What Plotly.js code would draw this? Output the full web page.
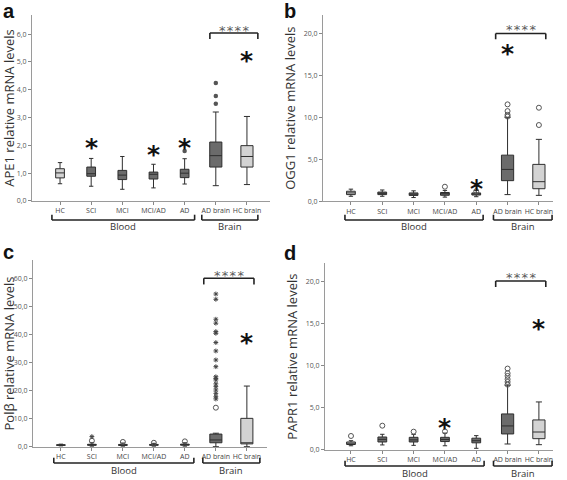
<!DOCTYPE html>
<html>
<head>
<meta charset="utf-8">
<script src="https://cdn.plot.ly/plotly-3.0.1.min.js"></script>
<style>html,body{margin:0;padding:0;background:#fff;}#chart{width:567px;height:480px;}</style>
</head>
<body>
<div id="chart"></div>
<script>
// ---------- data ----------
const categories = ["HC", "SCI", "MCI", "MCI/AD", "AD", "AD brain", "HC brain"];
const lightGroups = ["HC", "HC brain"];

// Panel a: APE1
const apeLow    = [0.62, 0.53, 0.42, 0.47, 0.61, 0.55, 0.59];
const apeQ1     = [0.83, 0.89, 0.77, 0.79, 0.84, 1.22, 1.22];
const apeMedian = [1.01, 0.98, 0.93, 0.96, 1.00, 1.63, 1.60];
const apeQ3     = [1.16, 1.22, 1.10, 1.04, 1.14, 2.12, 1.99];
const apeHigh   = [1.38, 1.53, 1.60, 1.32, 1.52, 3.20, 3.04];
const apeOutX   = ["AD", "AD brain", "AD brain", "AD brain"];
const apeOutY   = [1.80, 3.50, 3.78, 4.24];
const apeStarX  = ["SCI", "MCI/AD", "AD", "HC brain"];
const apeStarY  = [2.16, 1.92, 2.18, 5.32];

// Panel b: OGG1
const oggLow    = [0.60, 0.60, 0.45, 0.50, 0.55, 0.80, 0.71];
const oggQ1     = [0.80, 0.80, 0.70, 0.72, 0.75, 2.46, 1.50];
const oggMedian = [1.00, 0.95, 0.85, 0.90, 0.88, 3.80, 2.34];
const oggQ3     = [1.20, 1.10, 1.00, 1.05, 1.00, 5.50, 4.40];
const oggHigh   = [1.45, 1.35, 1.25, 1.30, 1.30, 10.0, 7.38];
const oggOutX   = ["MCI/AD", "AD", "AD brain", "AD brain", "AD brain", "AD brain", "HC brain", "HC brain"];
const oggOutY   = [1.74, 1.20, 10.1, 10.3, 10.75, 11.55, 9.09, 11.15];
const oggStarX  = ["AD", "AD brain"];
const oggStarY  = [2.34, 18.5];

// Panel c: Pol beta
const polLow    = [0.40, 0.30, 0.30, 0.30, 0.30, 0.10, 0.10];
const polQ1     = [0.55, 0.60, 0.55, 0.60, 0.65, 1.50, 1.10];
const polMedian = [0.70, 0.75, 0.70, 0.75, 0.80, 2.50, 1.50];
const polQ3     = [0.80, 0.95, 0.90, 0.90, 1.00, 4.60, 10.2];
const polHigh   = [1.00, 1.50, 1.40, 1.30, 1.50, 4.90, 21.7];
const polOutX   = ["SCI", "MCI", "MCI/AD", "AD", "AD brain"];
const polOutY   = [2.20, 1.80, 1.50, 2.00, 14.0];
const polExtX   = ["SCI", "AD brain", "AD brain", "AD brain", "AD brain", "AD brain", "AD brain", "AD brain", "AD brain", "AD brain", "AD brain", "AD brain", "AD brain", "AD brain", "AD brain", "AD brain", "AD brain", "AD brain", "AD brain", "AD brain"];
const polExtY   = [3.7, 54.5, 52.6, 45.5, 44.1, 41.1, 40.5, 37.2, 34.2, 31.0, 28.6, 25.0, 24.4, 23.9, 22.5, 21.5, 20.3, 19.1, 17.9, 17.1];
const polStarX  = ["HC brain"];
const polStarY  = [39.7];

// Panel d: PAPR1
const papLow    = [0.50, 0.60, 0.55, 0.50, 0.20, 0.71, 0.63];
const papQ1     = [0.65, 0.95, 0.95, 1.00, 0.85, 1.90, 1.34];
const papMedian = [0.80, 1.26, 1.20, 1.25, 1.10, 2.85, 2.13];
const papQ3     = [0.95, 1.54, 1.50, 1.50, 1.40, 4.27, 3.56];
const papHigh   = [1.10, 1.86, 1.85, 2.00, 1.70, 7.67, 5.69];
const papOutX   = ["HC", "SCI", "MCI", "MCI/AD", "AD brain", "AD brain", "AD brain", "AD brain", "AD brain", "AD brain"];
const papOutY   = [1.66, 2.88, 2.17, 2.20, 7.74, 8.06, 8.38, 8.77, 9.09, 9.64];
const papStarX  = ["MCI/AD", "HC brain"];
const papStarY  = [3.50, 15.2];

// significance bracket heights (value of bracket line)
const sigLevels = [6.04, 20.0, 60.1, 20.0];
const yTitles = ["APE1 relative mRNA levels", "OGG1 relative mRNA levels", "Polβ relative mRNA levels", "PAPR1 relative mRNA levels"];
const panelLetters = ["a", "b", "c", "d"];

// ---------- build ----------
const FONT = "Open Sans, Liberation Sans, sans-serif";
const DARK = "#6b6b6b", LIGHT = "#d3d3d3";
const traces = [];
const annotations = [];
const shapes = [];

function addPanel(ax, low, q1, med, q3, high, outX, outY, starX, starY, outFilled) {
  const xa = "x" + (ax === 1 ? "" : ax), ya = "y" + (ax === 1 ? "" : ax);
  categories.forEach((c, i) => {
    const light = lightGroups.includes(c);
    traces.push({
      type: "box", x: [c], q1: [q1[i]], median: [med[i]], q3: [q3[i]],
      lowerfence: [low[i]], upperfence: [high[i]],
      width: i >= 5 ? 0.39 : 0.28, whiskerwidth: 0.5,
      fillcolor: light ? LIGHT : DARK,
      line: {color: "#2e2e2e", width: 1},
      boxpoints: false, xaxis: xa, yaxis: ya, showlegend: false, hoverinfo: "y"
    });
  });
  traces.push({
    type: "scatter", mode: "markers", x: outX, y: outY, xaxis: xa, yaxis: ya, showlegend: false,
    marker: outFilled ? {symbol: "circle", size: 4.5, color: "#555"} :
                        {symbol: "circle-open", size: 5, color: "#555", line: {width: 1}}
  });
  starX.forEach((x, i) => {
    annotations.push({xref: xa, yref: ya, x: x, y: starY[i], text: "<b>*</b>", showarrow: false,
      font: {family: "DejaVu Sans", size: 25, color: "#111"}, yshift: -7});
  });
}

addPanel(1, apeLow, apeQ1, apeMedian, apeQ3, apeHigh, apeOutX, apeOutY, apeStarX, apeStarY, true);
addPanel(2, oggLow, oggQ1, oggMedian, oggQ3, oggHigh, oggOutX, oggOutY, oggStarX, oggStarY, false);
addPanel(3, polLow, polQ1, polMedian, polQ3, polHigh, polOutX, polOutY, polStarX, polStarY, false);
addPanel(4, papLow, papQ1, papMedian, papQ3, papHigh, papOutX, papOutY, papStarX, papStarY, false);
traces.push({type: "scatter", mode: "markers", x: polExtX, y: polExtY, xaxis: "x3", yaxis: "y3", showlegend: false,
  marker: {symbol: "asterisk-open", size: 4, color: "#444", line: {width: 1, color: "#444"}}});

// layout geometry per panel
const geo = [
  {xd: [0.0564, 0.4762], yd: [0.5813, 0.9688], xr: [-0.9, 6.74], yr: [0, 6.69], dt: 1,
   blood: [-0.26, 4.32], brain: [4.55, 6.35], brY: 0.5417, labY: 0.529, sig: [4.81, 6.35], sigDrop: 0.21, sigText: 0.2, letter: [9, 11]},
  {xd: [0.5697, 0.9753], yd: [0.5806, 0.9688], xr: [-0.89, 6.45], yr: [0, 22.2], dt: 5,
   blood: [-0.19, 4.22], brain: [4.55, 6.42], brY: 0.5417, labY: 0.529, sig: [4.62, 6.22], sigDrop: 0.7, sigText: 0.8, letter: [290, 11]},
  {xd: [0.0582, 0.4709], yd: [0.0688, 0.4583], xr: [-0.9, 6.65], yr: [0, 66.6], dt: 10,
   blood: [-0.23, 4.29], brain: [4.58, 6.42], brY: 0.0354, labY: 0.019, sig: [4.61, 6.23], sigDrop: 2.2, sigText: 2.0, letter: [8, 252]},
  {xd: [0.5732, 0.9753], yd: [0.0625, 0.4514], xr: [-0.83, 6.45], yr: [0, 22.1], dt: 5,
   blood: [-0.19, 4.25], brain: [4.55, 6.42], brY: 0.0292, labY: 0.0135, sig: [4.62, 6.22], sigDrop: 0.7, sigText: 0.75, letter: [290, 253]}
];

const layout = {
  width: 567, height: 480, margin: {l: 0, r: 0, t: 0, b: 0},
  paper_bgcolor: "#fff", plot_bgcolor: "#fff", boxmode: "overlay", separators: ",.",
  font: {family: FONT, color: "#333"}, showlegend: false,
  annotations: annotations, shapes: shapes
};

geo.forEach((g, k) => {
  const n = k + 1, sfx = n === 1 ? "" : n;
  const xa = "x" + sfx, ya = "y" + sfx;
  layout["xaxis" + sfx] = {
    domain: g.xd, anchor: ya, type: "category", categoryorder: "array", categoryarray: categories,
    range: g.xr, showgrid: false, zeroline: false, showline: true, linecolor: "#9a9a9a", linewidth: 1,
    ticks: "outside", ticklen: 3, tickcolor: "#888", tickfont: {size: 7, color: "#444", family: FONT}
  };
  layout["yaxis" + sfx] = {
    domain: g.yd, anchor: xa, range: g.yr, dtick: g.dt, tickformat: ".1f",
    showgrid: false, zeroline: false, showline: true, linecolor: "#9a9a9a", linewidth: 1,
    ticks: "outside", ticklen: 3, tickcolor: "#888", tickfont: {size: 7, color: "#555", family: FONT},
    title: {text: yTitles[k], font: {size: 13, color: "#333", family: FONT}, standoff: 5}
  };
  // Blood / Brain group brackets
  const hook = 0.011;
  [[g.blood, "Blood"], [g.brain, "Brain"]].forEach(([r, label]) => {
    const ln = {color: "#222", width: 1.6};
    shapes.push({type: "line", xref: xa, yref: "paper", x0: r[0], x1: r[1], y0: g.brY, y1: g.brY, line: ln});
    shapes.push({type: "line", xref: xa, yref: "paper", x0: r[0], x1: r[0], y0: g.brY, y1: g.brY + hook, line: ln});
    shapes.push({type: "line", xref: xa, yref: "paper", x0: r[1], x1: r[1], y0: g.brY, y1: g.brY + hook, line: ln});
    annotations.push({xref: xa, yref: "paper", x: (r[0] + r[1]) / 2, y: g.labY, text: label, showarrow: false,
      font: {size: 9.5, color: "#333", family: FONT}, yanchor: "middle"});
  });
  // significance bracket
  const s = sigLevels[k], ln2 = {color: "#222", width: 1.6};
  shapes.push({type: "line", xref: xa, yref: ya, x0: g.sig[0], x1: g.sig[1], y0: s, y1: s, line: ln2});
  shapes.push({type: "line", xref: xa, yref: ya, x0: g.sig[0], x1: g.sig[0], y0: s, y1: s - g.sigDrop, line: ln2});
  shapes.push({type: "line", xref: xa, yref: ya, x0: g.sig[1], x1: g.sig[1], y0: s, y1: s - g.sigDrop, line: ln2});
  annotations.push({xref: xa, yref: ya, x: (g.sig[0] + g.sig[1]) / 2, y: s + g.sigText, text: "*\u200A*\u200A*\u200A*", showarrow: false,
    font: {size: 13, color: "#5a5a5a", family: "DejaVu Sans"}, yshift: -3});
  // panel letter
  annotations.push({xref: "paper", yref: "paper", x: g.letter[0] / 567, y: 1 - g.letter[1] / 480, text: "<b>" + panelLetters[k] + "</b>",
    showarrow: false, font: {size: 20, color: "#111", family: "Liberation Sans, Arial, sans-serif"}, xanchor: "center", yanchor: "middle"});
});

Plotly.newPlot("chart", traces, layout, {staticPlot: true, displayModeBar: false});
</script>
</body>
</html>
